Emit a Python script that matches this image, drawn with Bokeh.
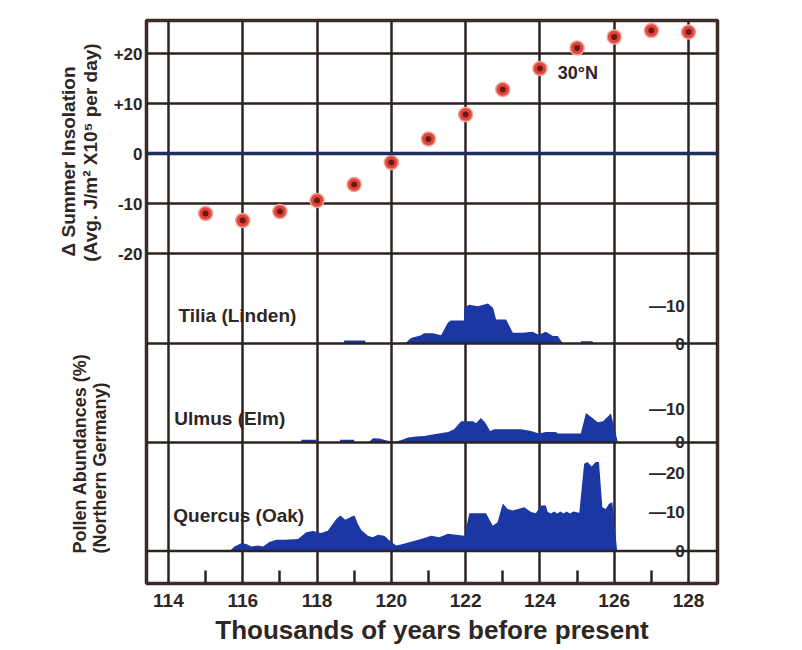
import math
from bokeh.plotting import figure
from bokeh.layouts import row
from bokeh.models import Range1d, FixedTicker, Span, Label, ColumnDataSource
from bokeh.embed import file_html
from bokeh.resources import INLINE

# ---------------- data ----------------
x_ticks = [114, 116, 118, 120, 122, 124, 126, 128]
x_minor = [115, 117, 119, 121, 123, 125, 127]
ins_ticks = [-20, -10, 0, 10, 20]
ins_tick_labels = {-20: "-20", -10: "-10", 0: "0", 10: "+10", 20: "+20"}

ins_x = [115, 116, 117, 118, 119, 120, 121, 122, 123, 124, 125, 126, 127, 128]
ins_y = [-12.0, -13.4, -11.6, -9.4, -6.2, -1.8, 2.9, 7.8, 12.8, 17.0, 21.1, 23.3, 24.6, 24.3]

tilia_x = [118.73, 118.73, 119.30, 119.30, 120.37, 120.53, 120.80, 120.88, 121.12, 121.34,
           121.52, 121.60, 121.96, 121.96, 122.09, 122.33, 122.60, 122.74, 122.82, 123.09,
           123.27, 123.54, 123.80, 123.97, 124.16, 124.35, 124.48, 124.62, 125.10, 125.10,
           125.42, 125.42]
tilia_y = [0, 0.8, 0.8, 0, 0, 1.5, 2.2, 2.8, 2.8, 2.2,
           5.6, 6.2, 6.2, 9.6, 10.5, 10.1, 10.8, 9.6, 6.5, 6.5,
           2.9, 2.9, 3.2, 2.4, 3.2, 2.0, 2.0, 0, 0, 0.6,
           0.6, 0]

ulmus_x = [117.58, 117.58, 117.98, 117.98, 118.62, 118.62, 119.00, 119.00, 119.38, 119.51,
           119.67, 119.91, 120.08, 120.26, 120.45, 120.67, 120.88, 121.15, 121.53, 121.69,
           121.88, 122.20, 122.28, 122.41, 122.52, 122.66, 122.77, 123.49, 123.76, 123.97,
           124.16, 124.43, 124.48, 125.10, 125.24, 125.56, 125.70, 125.91, 126.10]
ulmus_y = [0, 0.8, 0.8, 0, 0, 0.8, 0.8, 0, 0, 1.3,
           1.2, 0.5, 0.2, 0.7, 1.5, 1.8, 2.0, 2.5, 3.2, 4.0,
           6.4, 6.4, 5.8, 7.4, 6.1, 3.5, 4.0, 4.0, 3.5, 2.7,
           3.2, 3.2, 2.7, 2.7, 8.9, 6.1, 6.4, 8.8, 0]

quercus_x = [115.65, 115.78, 115.96, 116.10, 116.23, 116.41, 116.55, 116.72, 116.90, 117.13,
             117.49, 117.71, 117.89, 118.11, 118.29, 118.52, 118.63, 118.76, 118.92, 119.01,
             119.10, 119.19, 119.37, 119.50, 119.64, 119.81, 119.95, 120.13, 120.31, 120.80,
             121.07, 121.29, 121.52, 121.97, 122.10, 122.55, 122.73, 122.86, 123.00, 123.13,
             123.26, 123.58, 123.76, 123.89, 124.03, 124.16, 124.21, 124.30, 124.38, 124.47,
             124.55, 124.64, 124.72, 124.81, 124.90, 125.06, 125.19, 125.28, 125.39, 125.50,
             125.59, 125.68, 125.77, 125.86, 125.95, 126.08]
quercus_y = [0, 1.15, 2.0, 1.8, 1.15, 1.4, 1.15, 2.3, 2.9, 2.9,
             3.1, 4.8, 5.1, 4.6, 5.2, 8.2, 9.1, 8.0, 8.8, 9.1,
             6.9, 5.4, 3.9, 3.5, 4.2, 3.9, 2.7, 1.4, 1.8, 3.1,
             3.9, 3.5, 4.4, 3.9, 9.7, 9.7, 6.5, 7.4, 12.2, 10.8,
             10.4, 11.2, 10.0, 9.7, 11.7, 11.7, 10.0, 9.6, 10.1, 9.6,
             10.1, 9.6, 10.1, 9.6, 10.1, 9.8, 22.4, 22.8, 21.7, 22.8,
             22.8, 11.2, 10.8, 12.1, 12.5, 0]

tilia_ticks = [10, 0]
tilia_tick_labels = ["\u201410", "0"]
ulmus_ticks = [10, 0]
ulmus_tick_labels = ["\u201410", "0"]
quercus_ticks = [20, 10, 0]
quercus_tick_labels = ["\u201420", "\u201410", "0"]

# ---------------- styling ----------------
FONT = "Liberation Sans"
INK = "#2e2624"
GRID = "#2d2320"
BLUE = "#1b37a3"
H = 650
LW = 110
BT, BB = 20, 67

p = figure(width=684, height=H, x_range=Range1d(113.41, 128.78), y_range=Range1d(-86, 26.6),
           output_backend="svg", toolbar_location=None, title=None,
           min_border_left=35, min_border_right=77, min_border_top=BT, min_border_bottom=BB)
p.extra_y_ranges = {
    "tilia": Range1d(-64.86, 87.30),
    "ulmus": Range1d(-42.73, 127.88),
    "quercus": Range1d(-8.33, 136.03),
}
p.background_fill_color = "white"
p.border_fill_color = "white"
p.outline_line_color = "#3a2b26"
p.outline_line_width = 3.5

# x axis
p.xaxis.ticker = FixedTicker(ticks=x_ticks, minor_ticks=x_minor)
p.xaxis.axis_line_color = None
p.xaxis.major_tick_in = 0
p.xaxis.major_tick_out = 0
p.xaxis.minor_tick_in = 13
p.xaxis.minor_tick_out = 0
p.xaxis.minor_tick_line_width = 2.5
p.xaxis.minor_tick_line_color = GRID
p.xaxis.major_label_standoff = 10
p.xaxis.major_label_text_font = FONT
p.xaxis.major_label_text_font_style = "bold"
p.xaxis.major_label_text_font_size = "19px"
p.xaxis.major_label_text_color = INK
p.xaxis.axis_label = "Thousands of years before present"
p.xaxis.axis_label_text_font = FONT
p.xaxis.axis_label_text_font_style = "bold"
p.xaxis.axis_label_text_font_size = "26px"
p.xaxis.axis_label_text_color = INK
p.xaxis.axis_label_standoff = 5

# y axis
p.yaxis.ticker = FixedTicker(ticks=ins_ticks)
p.yaxis.major_label_overrides = ins_tick_labels
p.yaxis.axis_line_color = None
p.yaxis.major_tick_in = 0
p.yaxis.major_tick_out = 0
p.yaxis.minor_tick_line_color = None
p.yaxis.major_label_standoff = 4
p.yaxis.major_label_text_font = FONT
p.yaxis.major_label_text_font_style = "bold"
p.yaxis.major_label_text_font_size = "17px"
p.yaxis.major_label_text_color = INK

# grids
p.xgrid.ticker = FixedTicker(ticks=x_ticks)
p.xgrid.grid_line_color = GRID
p.xgrid.grid_line_width = 2.5
p.ygrid.ticker = FixedTicker(ticks=[t for t in ins_ticks if t != 0])
p.ygrid.grid_line_color = GRID
p.ygrid.grid_line_width = 2.5

p.add_layout(Span(location=0, dimension="width", line_color="#1e2d5c", line_width=3.5))
for rn in ["tilia", "ulmus", "quercus"]:
    p.add_layout(Span(location=0, dimension="width", y_range_name=rn,
                      line_color=GRID, line_width=2.5))

# pollen areas
for rn, xs, ys in [("tilia", tilia_x, tilia_y), ("ulmus", ulmus_x, ulmus_y),
                   ("quercus", quercus_x, quercus_y)]:
    src = ColumnDataSource(dict(x=xs, y=ys, z=[0] * len(xs)))
    p.varea(x="x", y1="z", y2="y", source=src, y_range_name=rn, fill_color=BLUE)

# insolation dots
ins_src = ColumnDataSource(dict(x=ins_x, y=ins_y))
p.scatter("x", "y", source=ins_src, size=14, fill_color="#e3443a",
          line_color="#f0a39c", line_width=1.5)
p.scatter("x", "y", source=ins_src, size=6, fill_color="#6b1a15", line_color=None)

# panel scale labels
for rn, ticks, labels in [("tilia", tilia_ticks, tilia_tick_labels),
                          ("ulmus", ulmus_ticks, ulmus_tick_labels),
                          ("quercus", quercus_ticks, quercus_tick_labels)]:
    for t, lab in zip(ticks, labels):
        p.add_layout(Label(x=127.9, y=t, y_range_name=rn, text=lab,
                           text_align="right",
                           text_baseline="alphabetic" if t == 0 else "middle",
                           text_font=FONT, text_font_style="bold",
                           text_font_size="17px", text_color=INK))

# panel names
for rn, xx, yy, txt in [("tilia", 114.27, 7.6, "Tilia  (Linden)"),
                        ("ulmus", 114.16, 7.3, "Ulmus  (Elm)"),
                        ("quercus", 114.13, 9.1, "Quercus   (Oak)")]:
    p.add_layout(Label(x=xx, y=yy, y_range_name=rn, text=txt, text_align="left",
                       text_baseline="middle", text_font=FONT,
                       text_font_style="bold", text_font_size="19px", text_color=INK))

p.add_layout(Label(x=124.48, y=16.2, text="30\u00b0N", text_align="left",
                   text_baseline="middle", text_font=FONT, text_font_style="bold",
                   text_font_size="18px", text_color=INK))

# ---------------- left title strip (shares the insolation y range) ----------------
side = figure(width=LW, height=H, x_range=Range1d(0, LW), y_range=p.y_range,
              output_backend="svg", toolbar_location=None, title=None,
              x_axis_type=None, y_axis_type=None,
              min_border_left=0, min_border_right=0, min_border_top=BT, min_border_bottom=BB)
side.outline_line_color = None
side.grid.visible = False
side.background_fill_color = "white"
side.border_fill_color = "white"

def add_title(x, y, txt, align, size):
    side.add_layout(Label(x=x, y=y, text=txt, angle=math.pi / 2, text_align=align,
                          text_baseline="middle", text_font=FONT, text_font_style="bold",
                          text_font_size=size, text_color=INK))

add_title(68, -1.6, "\u0394 Summer Insolation", "center", "19px")
add_title(90, 0.2, "(Avg. J/m\u00b2 X10\u2075 per day)", "center", "19px")
add_title(79, -80.0, "Pollen Abundances (%)", "left", "18px")
add_title(99, -80.0, "(Northern Germany)", "left", "18px")

layout = row(side, p, spacing=0)
open("out.html", "w").write(file_html(layout, INLINE))
